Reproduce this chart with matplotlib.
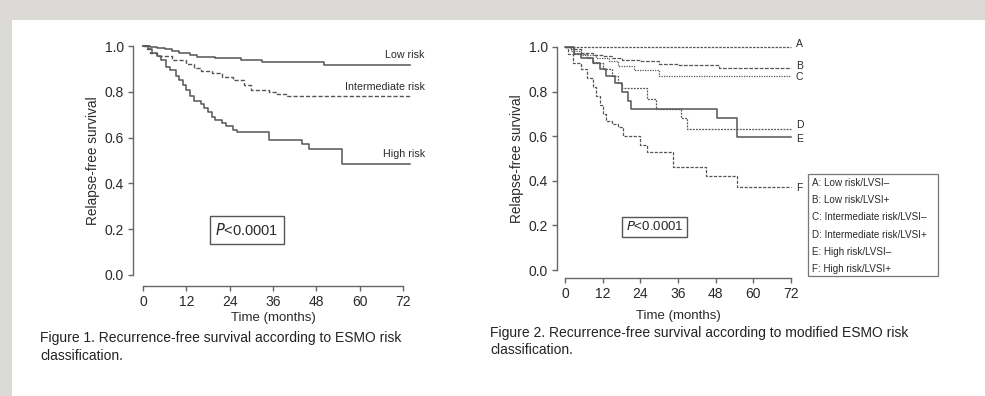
import matplotlib
matplotlib.use("Agg")
import matplotlib.pyplot as plt
from matplotlib.patches import Rectangle

plt.rcParams['font.family'] = ['Liberation Sans', 'DejaVu Sans']

# ---------------- data ----------------
months_ticks = [0, 12, 24, 36, 48, 60, 72]
surv_ticks = [0.0, 0.2, 0.4, 0.6, 0.8, 1.0]

# Figure 1 (ESMO risk)
low_t = [0, 2, 4, 6, 8, 10, 13, 15, 20, 27, 33, 50, 74]
low_s = [1.0, 0.995, 0.99, 0.985, 0.978, 0.97, 0.962, 0.952, 0.947, 0.94, 0.929, 0.917, 0.917]
int_t = [0, 1, 2, 4, 8, 12, 14, 16, 19, 22, 25, 28, 30, 35, 37, 40, 74]
int_s = [1.0, 0.985, 0.97, 0.955, 0.94, 0.92, 0.905, 0.89, 0.88, 0.865, 0.85, 0.83, 0.81, 0.8, 0.79, 0.78, 0.78]
high_t = [0, 1.5, 2.5, 4, 5, 6.5, 7.5, 9, 10, 11, 12, 13, 14, 16, 17, 18, 19, 20, 22, 23, 25, 26, 35, 44, 46, 55, 74]
high_s = [1.0, 0.985, 0.97, 0.955, 0.94, 0.91, 0.895, 0.87, 0.85, 0.83, 0.81, 0.78, 0.76, 0.745, 0.73, 0.71,
          0.69, 0.675, 0.665, 0.65, 0.635, 0.625, 0.59, 0.57, 0.55, 0.485, 0.485]
fig1_labels = ["Low risk", "Intermediate risk", "High risk"]

# Figure 2 (modified ESMO risk)
a_t = [0, 72]
a_s = [1.0, 1.0]
b_t = [0, 2, 5, 9, 12, 15, 18, 24, 30, 36, 49, 72]
b_s = [1.0, 0.99, 0.975, 0.965, 0.96, 0.95, 0.94, 0.935, 0.925, 0.92, 0.905, 0.905]
c_t = [0, 2, 5, 10, 14, 17, 22, 30, 72]
c_s = [1.0, 0.98, 0.965, 0.95, 0.935, 0.915, 0.895, 0.872, 0.872]
d_t = [0, 3, 7, 9, 12, 15, 17, 18, 26, 29, 37, 39, 72]
d_s = [1.0, 0.97, 0.95, 0.93, 0.9, 0.87, 0.84, 0.815, 0.765, 0.72, 0.68, 0.632, 0.632]
e_t = [0, 3, 5, 9, 11, 13, 16, 18, 20, 21, 48.5, 54.7, 72]
e_s = [1.0, 0.97, 0.95, 0.93, 0.9, 0.87, 0.84, 0.8, 0.76, 0.723, 0.68, 0.596, 0.596]
f_t = [0, 1, 2.5, 5, 7, 9, 10, 11, 12, 13, 15, 17, 18.6, 24, 26, 34.5, 44.9, 54.7, 72]
f_s = [1.0, 0.97, 0.93, 0.9, 0.86, 0.82, 0.78, 0.74, 0.70, 0.67, 0.655, 0.64, 0.60, 0.56, 0.53, 0.46, 0.42, 0.374, 0.374]
fig2_letters = ["A", "B", "C", "D", "E", "F"]
fig2_legend = ["A: Low risk/LVSI\u2013", "B: Low risk/LVSI+", "C: Intermediate risk/LVSI\u2013",
               "D: Intermediate risk/LVSI+", "E: High risk/LVSI\u2013", "F: High risk/LVSI+"]

# ---------------- figure ----------------
W, H = 985, 396
fig = plt.figure(figsize=(W / 100, H / 100), dpi=100)
fig.patch.set_facecolor('#dcdad7')
fig.add_artist(Rectangle((12 / W, 0), 1, (H - 20) / H, transform=fig.transFigure,
                         facecolor='white', edgecolor='none', zorder=0))

LC = '#555555'
TC = '#2a2a2a'


def px_axes(x0, x1, ytop, ybot):
    return fig.add_axes([x0 / W, (H - ybot) / H, (x1 - x0) / W, (ybot - ytop) / H])


def style(ax, yoff_px, xoff_px, xpad):
    ax.set_xlim(0, 72)
    ax.set_ylim(0, 1)
    ax.patch.set_alpha(0)
    for s in ['top', 'right']:
        ax.spines[s].set_visible(False)
    ax.spines['left'].set_position(('outward', yoff_px * 0.72))
    ax.spines['bottom'].set_position(('outward', xoff_px * 0.72))
    ax.spines['left'].set_bounds(0, 1)
    ax.spines['bottom'].set_bounds(0, 72)
    for s in ['left', 'bottom']:
        ax.spines[s].set_color('#666666')
        ax.spines[s].set_linewidth(1.0)
    ax.set_xticks(months_ticks)
    ax.set_yticks(surv_ticks)
    ax.set_yticklabels([f"{v:.1f}" for v in surv_ticks])
    ax.tick_params(axis='both', colors='#666666', labelcolor=TC, labelsize=10, length=3.5, width=1.0, pad=3)
    ax.set_xlabel("Time (months)", fontsize=9.5, color=TC, labelpad=xpad)
    ax.set_ylabel("Relapse-free survival", fontsize=9.8, color=TC, labelpad=3)


# ---- Figure 1 ----
ax1 = px_axes(143, 403, 46, 275)
style(ax1, 10, 11, 2)
ax1.step(low_t, low_s, where='post', color=LC, lw=1.1, clip_on=False)
ax1.step(int_t, int_s, where='post', color=LC, lw=1.0, ls=(0, (3, 1.5)), clip_on=False)
ax1.step(high_t, high_s, where='post', color=LC, lw=1.1, clip_on=False)
for lab, y in zip(fig1_labels, [low_s[-1], int_s[-1], high_s[-1]]):
    ax1.text(78, y + 0.02, lab, ha='right', va='bottom', fontsize=7.7, color=TC, clip_on=False)
ax1.text(0.40, 0.197, "$\\it{P}$<0.0001", transform=ax1.transAxes, ha='center', va='center',
         fontsize=10.5, color=TC,
         bbox=dict(boxstyle='square,pad=0.4', fc='white', ec='#555555', lw=1.0))

# ---- Figure 2 ----
ax2 = px_axes(565, 791, 47, 270)
style(ax2, 8, 8, 6.5)
styles = [(0, (2, 1)), (0, (3, 1.2)), (0, (1, 1)), (0, (1.5, 1)), '-', (0, (2.5, 1.2))]
series = [(a_t, a_s), (b_t, b_s), (c_t, c_s), (d_t, d_s), (e_t, e_s), (f_t, f_s)]
label_y = [1.015, 0.916, 0.867, 0.651, 0.588, 0.368]
for (t, s), ls, letter, ly in zip(series, styles, fig2_letters, label_y):
    ax2.step(t, s, where='post', color=LC, lw=1.1 if ls == '-' else 0.9, ls=ls, clip_on=False)
    ax2.text(73.5, ly, letter, ha='left', va='center', fontsize=7.5, color=TC, clip_on=False)
ax2.text(0.396, 0.193, "$\\it{P}$<0.0001", transform=ax2.transAxes, ha='center', va='center',
         fontsize=9.5, color=TC,
         bbox=dict(boxstyle='square,pad=0.3', fc='white', ec='#555555', lw=1.0))

# legend box
lx0, lx1, ly0, ly1 = 808, 938, 174, 276
fig.add_artist(Rectangle((lx0 / W, (H - ly1) / H), (lx1 - lx0) / W, (ly1 - ly0) / H,
                         transform=fig.transFigure, fc='white', ec='#777777', lw=0.9))
for i, txt in enumerate(fig2_legend):
    fig.text((lx0 + 4) / W, (H - (183 + i * 17.2)) / H, txt, ha='left', va='center',
             fontsize=7.1, color=TC)

# captions
cap_font = ['Liberation Sans Narrow', 'Liberation Sans', 'DejaVu Sans']
fig.text(40 / W, (H - 338) / H, "Figure 1. Recurrence-free survival according to ESMO risk",
         fontsize=10, color='#222222', family=cap_font, va='center')
fig.text(40 / W, (H - 356) / H, "classification.", fontsize=10, color='#222222', family=cap_font,
         va='center')
fig.text(490 / W, (H - 333) / H, "Figure 2. Recurrence-free survival according to modified ESMO risk",
         fontsize=10, color='#222222', family=cap_font, va='center')
fig.text(490 / W, (H - 350) / H, "classification.", fontsize=10, color='#222222', family=cap_font,
         va='center')

fig.savefig("out.png", dpi=100)
